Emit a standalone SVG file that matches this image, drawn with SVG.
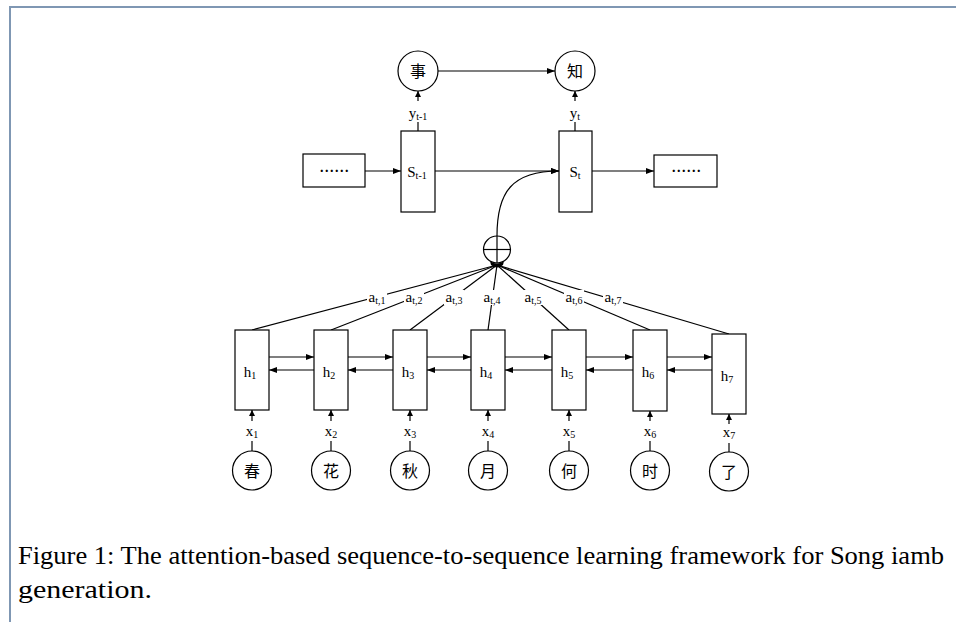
<svg xmlns="http://www.w3.org/2000/svg" width="956" height="622" viewBox="0 0 956 622">
<defs>
<marker id="arr" markerUnits="userSpaceOnUse" markerWidth="8" markerHeight="6" refX="8" refY="3" orient="auto">
<path d="M0,0 L8,3 L0,6 z" fill="#000"/>
</marker>
<marker id="arrs" markerUnits="userSpaceOnUse" markerWidth="6" markerHeight="6" refX="6" refY="3" orient="auto">
<path d="M0,0 L6,3 L0,6 z" fill="#000"/>
</marker>
</defs>
<style>
.bx{fill:#fff;stroke:#000;stroke-width:1.2}
.ci{fill:#fff;stroke:#000;stroke-width:1.2}
.ln{fill:none;stroke:#000;stroke-width:1.2}
.t{font-family:"Liberation Serif","Times New Roman",serif;font-size:15px;fill:#000;text-anchor:middle}
.s{font-size:10px}
.cj{font-family:"Noto Sans CJK SC","Noto Sans CJK JP",sans-serif;font-size:16px;fill:#000;text-anchor:middle}
.lb{fill:#fff;stroke:none}
.al{font-family:"Liberation Serif","Times New Roman",serif;font-size:15px;fill:#000;text-anchor:middle}
.dots{font-family:"Liberation Serif",serif;font-size:14px;font-weight:bold;letter-spacing:1.5px;text-anchor:middle}
.cap{font-family:"Liberation Serif","Times New Roman",serif;font-size:26px;fill:#000}
</style>
<rect width="956" height="622" fill="#fff"/>
<g id="frame" fill="none" stroke="#7f97b3" stroke-width="2">
<path d="M10,622 L10,7 L956,7"/>
</g>

<g id="connectors">
<line class="ln" x1="438" y1="71" x2="555" y2="71" marker-end="url(#arr)"/>
<line class="ln" x1="418" y1="101" x2="418" y2="91" marker-end="url(#arrs)"/>
<line class="ln" x1="575" y1="101" x2="575" y2="91" marker-end="url(#arrs)"/>
<line class="ln" x1="418" y1="131" x2="418" y2="122"/>
<line class="ln" x1="575" y1="131" x2="575" y2="122"/>
<line class="ln" x1="365" y1="171" x2="401" y2="171" marker-end="url(#arr)"/>
<line class="ln" x1="435" y1="171" x2="559" y2="171" marker-end="url(#arr)"/>
<line class="ln" x1="592" y1="171" x2="654" y2="171" marker-end="url(#arr)"/>
<path class="ln" d="M497,236 C497,192 512,171 559,171" marker-end="url(#arr)"/>
<line class="ln" x1="497" y1="265" x2="252" y2="330"/>
<line class="ln" x1="497" y1="265" x2="331" y2="330"/>
<line class="ln" x1="497" y1="265" x2="410" y2="330"/>
<line class="ln" x1="497" y1="265" x2="488" y2="330"/>
<line class="ln" x1="497" y1="265" x2="569" y2="330"/>
<line class="ln" x1="497" y1="265" x2="650" y2="330"/>
<line class="ln" x1="497" y1="265" x2="729" y2="334"/>
<line class="ln" x1="269" y1="357" x2="314" y2="357" marker-end="url(#arr)"/>
<line class="ln" x1="314" y1="370" x2="269" y2="370" marker-end="url(#arr)"/>
<line class="ln" x1="348" y1="357" x2="393" y2="357" marker-end="url(#arr)"/>
<line class="ln" x1="393" y1="370" x2="348" y2="370" marker-end="url(#arr)"/>
<line class="ln" x1="427" y1="357" x2="471" y2="357" marker-end="url(#arr)"/>
<line class="ln" x1="471" y1="370" x2="427" y2="370" marker-end="url(#arr)"/>
<line class="ln" x1="505" y1="357" x2="552" y2="357" marker-end="url(#arr)"/>
<line class="ln" x1="552" y1="370" x2="505" y2="370" marker-end="url(#arr)"/>
<line class="ln" x1="586" y1="357" x2="633" y2="357" marker-end="url(#arr)"/>
<line class="ln" x1="633" y1="370" x2="586" y2="370" marker-end="url(#arr)"/>
<line class="ln" x1="667" y1="357" x2="712" y2="357" marker-end="url(#arr)"/>
<line class="ln" x1="712" y1="370" x2="667" y2="370" marker-end="url(#arr)"/>
<line class="ln" x1="252" y1="421" x2="252" y2="410" marker-end="url(#arrs)"/>
<line class="ln" x1="331" y1="421" x2="331" y2="410" marker-end="url(#arrs)"/>
<line class="ln" x1="410" y1="421" x2="410" y2="410" marker-end="url(#arrs)"/>
<line class="ln" x1="488" y1="421" x2="488" y2="410" marker-end="url(#arrs)"/>
<line class="ln" x1="569" y1="421" x2="569" y2="410" marker-end="url(#arrs)"/>
<line class="ln" x1="650" y1="421" x2="650" y2="411" marker-end="url(#arrs)"/>
<line class="ln" x1="729" y1="424" x2="729" y2="414" marker-end="url(#arrs)"/>
<line class="ln" x1="252" y1="441" x2="252" y2="451"/>
<line class="ln" x1="331" y1="441" x2="331" y2="451"/>
<line class="ln" x1="410" y1="441" x2="410" y2="451"/>
<line class="ln" x1="488" y1="441" x2="488" y2="451"/>
<line class="ln" x1="569" y1="441" x2="569" y2="451"/>
<line class="ln" x1="650" y1="441" x2="650" y2="451"/>
<line class="ln" x1="729" y1="443" x2="729" y2="452"/>
<rect class="lb" x="367" y="290" width="20" height="15"/>
<rect class="lb" x="404" y="290" width="20" height="15"/>
<rect class="lb" x="444" y="290" width="20" height="15"/>
<rect class="lb" x="482" y="290" width="20" height="15"/>
<rect class="lb" x="523" y="290" width="20" height="15"/>
<rect class="lb" x="564" y="290" width="20" height="15"/>
<rect class="lb" x="603" y="290" width="20" height="15"/>
<text class="t" x="418" y="118">y<tspan class="s" dy="2">t-1</tspan></text>
<text class="t" x="575" y="118">y<tspan class="s" dy="2">t</tspan></text>
<text class="al" x="377" y="302">a<tspan class="s" dy="2">t,1</tspan></text>
<text class="al" x="414" y="302">a<tspan class="s" dy="2">t,2</tspan></text>
<text class="al" x="454" y="302">a<tspan class="s" dy="2">t,3</tspan></text>
<text class="al" x="492" y="302">a<tspan class="s" dy="2">t,4</tspan></text>
<text class="al" x="533" y="302">a<tspan class="s" dy="2">t,5</tspan></text>
<text class="al" x="574" y="302">a<tspan class="s" dy="2">t,6</tspan></text>
<text class="al" x="613" y="302">a<tspan class="s" dy="2">t,7</tspan></text>
<text class="t" x="252" y="436">x<tspan class="s" dy="2">1</tspan></text>
<text class="t" x="331" y="436">x<tspan class="s" dy="2">2</tspan></text>
<text class="t" x="410" y="436">x<tspan class="s" dy="2">3</tspan></text>
<text class="t" x="488" y="436">x<tspan class="s" dy="2">4</tspan></text>
<text class="t" x="569" y="436">x<tspan class="s" dy="2">5</tspan></text>
<text class="t" x="650" y="436">x<tspan class="s" dy="2">6</tspan></text>
<text class="t" x="729" y="437">x<tspan class="s" dy="2">7</tspan></text>
</g>

<g id="out1"><circle class="ci" cx="418" cy="71" r="20"/><text class="cj" x="418" y="77">事</text></g>
<g id="out2"><circle class="ci" cx="575" cy="71" r="20"/><text class="cj" x="575" y="77">知</text></g>
<g id="dotsL"><rect class="bx" x="303" y="154" width="62" height="33"/><text class="dots" x="335" y="172">......</text></g>
<g id="st1"><rect class="bx" x="401" y="131" width="34" height="81"/><text class="t" x="417" y="177">S<tspan class="s" dy="2">t-1</tspan></text></g>
<g id="st"><rect class="bx" x="559" y="131" width="33" height="81"/><text class="t" x="575" y="177">S<tspan class="s" dy="2">t</tspan></text></g>
<g id="dotsR"><rect class="bx" x="654" y="155" width="63" height="32"/><text class="dots" x="687" y="172">......</text></g>
<g id="sum">
<circle class="ci" cx="497" cy="249.5" r="13.5"/>
<line class="ln" x1="483.5" y1="249.5" x2="510.5" y2="249.5"/>
<line class="ln" x1="497" y1="236" x2="497" y2="263"/>
<path d="M490,261 Q497,266 504,261 L503,265 Q497,270 491,265 z" fill="#000"/>
</g>

<g id="h1"><rect class="bx" x="235" y="330" width="34" height="80"/><text class="t" x="250" y="377">h<tspan class="s" dy="2">1</tspan></text></g>
<g id="h2"><rect class="bx" x="314" y="330" width="34" height="80"/><text class="t" x="329" y="377">h<tspan class="s" dy="2">2</tspan></text></g>
<g id="h3"><rect class="bx" x="393" y="330" width="34" height="80"/><text class="t" x="408" y="377">h<tspan class="s" dy="2">3</tspan></text></g>
<g id="h4"><rect class="bx" x="471" y="330" width="34" height="80"/><text class="t" x="486" y="377">h<tspan class="s" dy="2">4</tspan></text></g>
<g id="h5"><rect class="bx" x="552" y="330" width="34" height="80"/><text class="t" x="567" y="377">h<tspan class="s" dy="2">5</tspan></text></g>
<g id="h6"><rect class="bx" x="633" y="330" width="34" height="81"/><text class="t" x="648" y="377">h<tspan class="s" dy="2">6</tspan></text></g>
<g id="h7"><rect class="bx" x="712" y="334" width="34" height="80"/><text class="t" x="727" y="381">h<tspan class="s" dy="2">7</tspan></text></g>

<g id="in1"><circle class="ci" cx="252" cy="470.5" r="19.5"/><text class="cj" x="252" y="476.5">春</text></g>
<g id="in2"><circle class="ci" cx="331" cy="470.5" r="19.5"/><text class="cj" x="331" y="476.5">花</text></g>
<g id="in3"><circle class="ci" cx="410" cy="470.5" r="19.5"/><text class="cj" x="410" y="476.5">秋</text></g>
<g id="in4"><circle class="ci" cx="488" cy="470.5" r="19.5"/><text class="cj" x="488" y="476.5">月</text></g>
<g id="in5"><circle class="ci" cx="569" cy="470.5" r="19.5"/><text class="cj" x="569" y="476.5">何</text></g>
<g id="in6"><circle class="ci" cx="650" cy="470.5" r="19.5"/><text class="cj" x="650" y="476.5">时</text></g>
<g id="in7"><circle class="ci" cx="729" cy="471.5" r="19.5"/><text class="cj" x="729" y="477.5">了</text></g>

<g id="caption">
<text class="cap" x="18" y="564" textLength="926" lengthAdjust="spacingAndGlyphs">Figure 1: The attention-based sequence-to-sequence learning framework for Song iamb</text>
<text class="cap" x="18" y="598" textLength="134" lengthAdjust="spacingAndGlyphs">generation.</text>
</g>
</svg>
